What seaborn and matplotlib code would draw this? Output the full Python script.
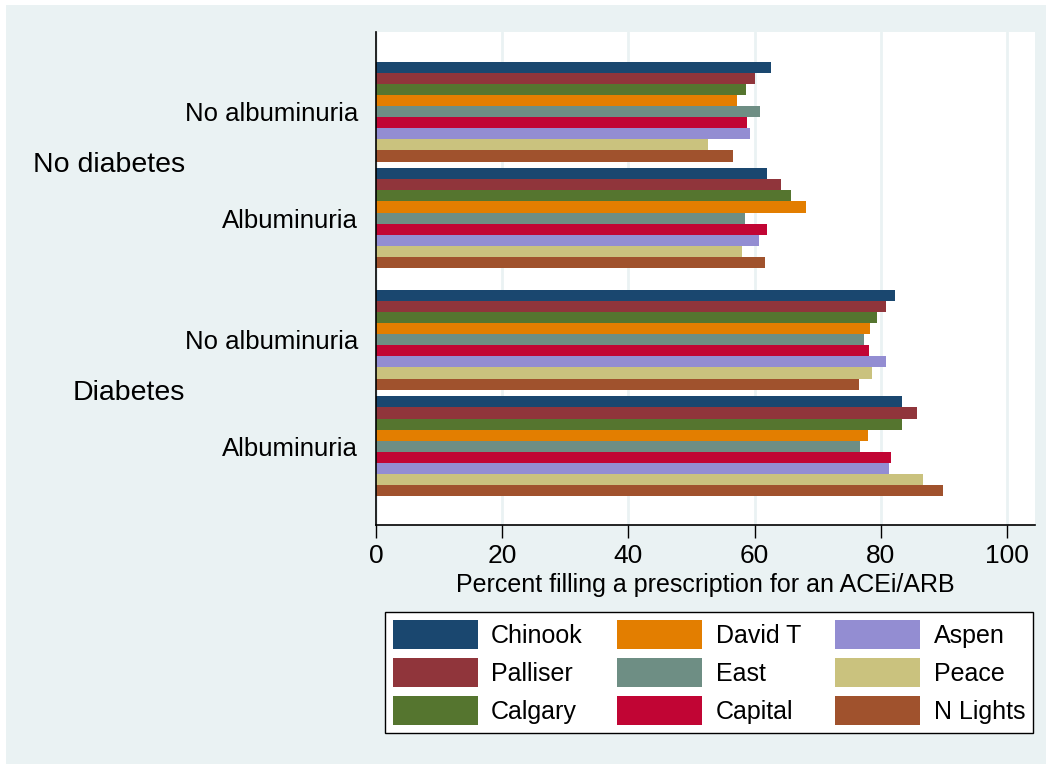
import numpy as np
import pandas as pd
import matplotlib
matplotlib.use("Agg")
import matplotlib.pyplot as plt
import matplotlib.transforms as mtransforms
from matplotlib.patches import Rectangle
import seaborn as sns

# ---- data ----
regions = ["Chinook", "Palliser", "Calgary", "David T", "East",
           "Capital", "Aspen", "Peace", "N Lights"]
subgroups = ["No albuminuria", "Albuminuria", "No albuminuria", "Albuminuria"]
groups = ["No diabetes", "Diabetes"]
nodiab_noalb = [62.6, 60.1, 58.6, 57.2, 60.9, 58.7, 59.3, 52.6, 56.6]
nodiab_alb = [62.0, 64.1, 65.7, 68.1, 58.5, 61.9, 60.7, 58.0, 61.6]
diab_noalb = [82.3, 80.8, 79.3, 78.3, 77.3, 78.1, 80.8, 78.5, 76.5]
diab_alb = [83.4, 85.7, 83.3, 77.9, 76.6, 81.6, 81.3, 86.6, 89.9]
x_ticks = [0, 20, 40, 60, 80, 100]
xlabel = "Percent filling a prescription for an ACEi/ARB"

# ---- layout (not data) ----
positions = [0.0, 1.0, 2.14, 3.14]
colors = ["#1A476F", "#90353B", "#55752F", "#E37E00", "#6E8E84",
          "#C10534", "#938DD2", "#CAC27E", "#A0522D"]

series = [nodiab_noalb, nodiab_alb, diab_noalb, diab_alb]
rows = []
for pos, vals in zip(positions, series):
    for r, v in zip(regions, vals):
        rows.append({"pos": pos, "region": r, "value": v})
df = pd.DataFrame(rows)

sns.set_style("white")
plt.rcParams["font.family"] = ["Liberation Sans", "DejaVu Sans"]
plt.rcParams["text.color"] = "black"
plt.rcParams["axes.labelcolor"] = "black"
plt.rcParams["xtick.color"] = "black"
plt.rcParams["ytick.color"] = "black"

W, H = 1050, 769
fig = plt.figure(figsize=(W / 100, H / 100), dpi=100, facecolor="white")
bg = Rectangle((6 / W, 5 / H), (1046 - 6) / W, (764 - 5) / H,
               transform=fig.transFigure, facecolor="#EAF2F3",
               edgecolor="none", zorder=-10)
fig.patches.append(bg)

ax = fig.add_axes([376 / W, (H - 525) / H, (1035 - 376) / W, (525 - 32) / H])
ax.set_facecolor("white")

sns.barplot(data=df, x="value", y="pos", hue="region", hue_order=regions,
            orient="h", native_scale=True, width=0.938, palette=colors,
            saturation=1, errorbar=None, linewidth=0, dodge=True,
            legend=False, ax=ax)

ax.set_xlim(0, 104.4)
ax.set_ylim(3.878, -0.746)
ax.set_xticks(x_ticks)
ax.set_xticklabels([str(t) for t in x_ticks], fontsize=19)
ax.set_yticks(positions)
ax.set_yticklabels(subgroups, fontsize=18.5)
ax.tick_params(axis="y", length=0, pad=13)
ax.tick_params(axis="x", length=9, width=1, color="black", pad=5, direction="out")
ax.xaxis.set_ticks_position("bottom")
ax.set_xlabel(xlabel, fontsize=18, labelpad=3)
ax.set_ylabel("")
ax.grid(axis="x", color="#EAF2F3", linewidth=2, zorder=0)
ax.set_axisbelow(True)
for s in ["top", "right"]:
    ax.spines[s].set_visible(False)
for s in ["left", "bottom"]:
    ax.spines[s].set_color("black")
    ax.spines[s].set_linewidth(1.2)

trans = mtransforms.blended_transform_factory(fig.transFigure, ax.transData)
for g, y in zip(groups, [(positions[0] + positions[1]) / 2,
                         (positions[2] + positions[3]) / 2]):
    ax.text(185 / W, y, g, transform=trans, ha="right", va="center",
            fontsize=20.5, color="black")

handles = [Rectangle((0, 0), 1, 1, facecolor=c, edgecolor="none") for c in colors]
leg = fig.legend(handles, regions, ncol=3, loc="center",
                 bbox_to_anchor=(385 / W, (H - 731) / H, (1033 - 385) / W, (731 - 614) / H),
                 mode="expand", fontsize=18, frameon=True, fancybox=False,
                 edgecolor="black", facecolor="white", framealpha=1,
                 handlelength=3.4, handleheight=1.41, labelspacing=0.36,
                 handletextpad=0.55, columnspacing=1.0, borderpad=0.3,
                 borderaxespad=0)
leg.get_frame().set_linewidth(1.0)

fig.savefig("out.png", dpi=100, facecolor="white")
